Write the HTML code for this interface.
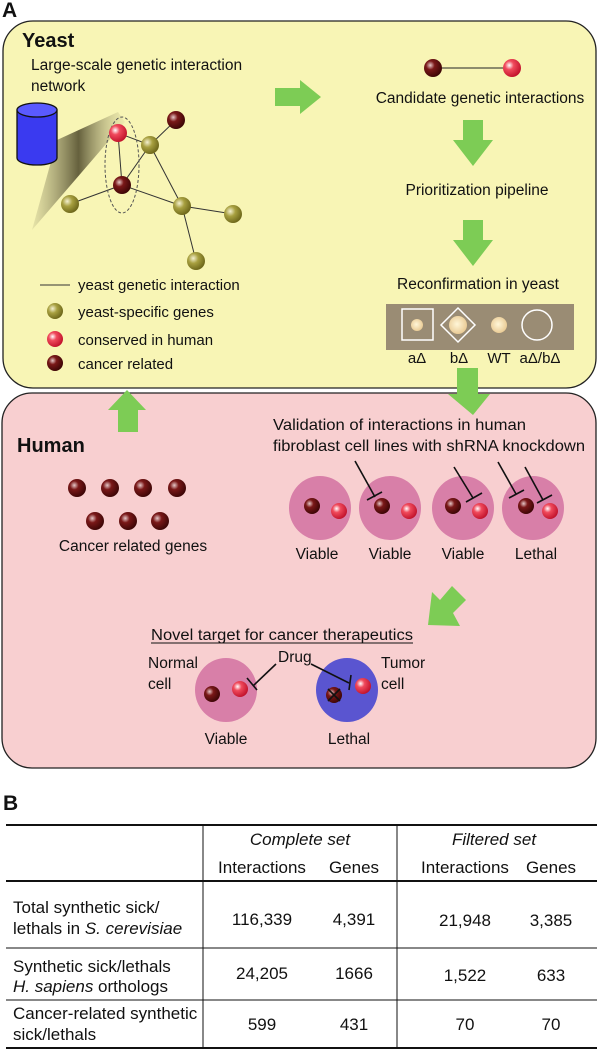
<!DOCTYPE html>
<html><head><meta charset="utf-8"><style>
html,body{margin:0;padding:0;background:#fff}
svg{display:block}
text{font-family:"Liberation Sans",Arial,sans-serif;fill:#111}
</style></head><body>
<svg width="601" height="1050" viewBox="0 0 601 1050" xmlns="http://www.w3.org/2000/svg">
<defs>
<radialGradient id="gr" cx="0.35" cy="0.35" r="0.7"><stop offset="0" stop-color="#fff"/><stop offset="0.35" stop-color="#f04a5c"/><stop offset="1" stop-color="#c0102a"/></radialGradient>
<radialGradient id="gd" cx="0.35" cy="0.35" r="0.7"><stop offset="0" stop-color="#e6c8c8"/><stop offset="0.35" stop-color="#7a1818"/><stop offset="1" stop-color="#3a0505"/></radialGradient>
<radialGradient id="go" cx="0.35" cy="0.35" r="0.7"><stop offset="0" stop-color="#f4f0d0"/><stop offset="0.4" stop-color="#a8a040"/><stop offset="1" stop-color="#6a6418"/></radialGradient>
<radialGradient id="gs" cx="0.45" cy="0.45" r="0.6"><stop offset="0" stop-color="#fff6d8"/><stop offset="1" stop-color="#e8c890"/></radialGradient>
<linearGradient id="wedge" x1="0" y1="0" x2="1" y2="0"><stop offset="0" stop-color="#8a8660" stop-opacity="0.15"/><stop offset="0.5" stop-color="#555030" stop-opacity="0.9"/><stop offset="1" stop-color="#c8c490" stop-opacity="0.2"/></linearGradient>
</defs>

<text x="2" y="17" font-size="21" font-weight="bold">A</text>
<rect x="3" y="21" width="593" height="367" rx="30" fill="#f8f5b5" stroke="#222" stroke-width="1.3"/>
<rect x="2" y="393" width="594" height="375" rx="30" fill="#f8cfd0" stroke="#222" stroke-width="1.3"/>

<text x="22" y="47" font-size="20" font-weight="bold">Yeast</text>
<text x="31" y="70" font-size="15.5">Large-scale genetic interaction</text>
<text x="31" y="91" font-size="15.5">network</text>

<polygon points="57,140 118,112 125,122 32,230" fill="url(#wedge)"/>
<path d="M17,110 L17,158 A20,7 0 0 0 57,158 L57,110 Z" fill="#3a3af0" stroke="#111" stroke-width="1.3"/>
<ellipse cx="37" cy="110" rx="20" ry="7" fill="#5a5aff" stroke="#111" stroke-width="1.3"/>

<g stroke="#333" stroke-width="1">
<line x1="118" y1="133" x2="150" y2="145"/>
<line x1="118" y1="133" x2="122" y2="185"/>
<line x1="122" y1="185" x2="150" y2="145"/>
<line x1="150" y1="145" x2="176" y2="120"/>
<line x1="122" y1="185" x2="70" y2="204"/>
<line x1="122" y1="185" x2="182" y2="206"/>
<line x1="150" y1="145" x2="182" y2="206"/>
<line x1="182" y1="206" x2="233" y2="214"/>
<line x1="182" y1="206" x2="196" y2="261"/>
</g>
<ellipse cx="122" cy="165" rx="17" ry="48" fill="none" stroke="#555" stroke-dasharray="3,2"/>
<circle cx="118" cy="133" r="9" fill="url(#gr)"/>
<circle cx="176" cy="120" r="9" fill="url(#gd)"/>
<circle cx="150" cy="145" r="9" fill="url(#go)"/>
<circle cx="122" cy="185" r="9" fill="url(#gd)"/>
<circle cx="70" cy="204" r="9" fill="url(#go)"/>
<circle cx="182" cy="206" r="9" fill="url(#go)"/>
<circle cx="233" cy="214" r="9" fill="url(#go)"/>
<circle cx="196" cy="261" r="9" fill="url(#go)"/>

<line x1="40" y1="285" x2="70" y2="285" stroke="#333"/>
<text x="78" y="290" font-size="15">yeast genetic interaction</text>
<circle cx="55" cy="311" r="8" fill="url(#go)"/>
<text x="78" y="317" font-size="15">yeast-specific genes</text>
<circle cx="55" cy="339" r="8" fill="url(#gr)"/>
<text x="78" y="345" font-size="15">conserved in human</text>
<circle cx="55" cy="363" r="8" fill="url(#gd)"/>
<text x="78" y="369" font-size="15">cancer related</text>

<g fill="#7dcc55">
<polygon points="275,88 300,88 300,80 321,97 300,114 300,106 275,106"/>
<polygon points="463,120 483,120 483,140 493,140 473,166 453,140 463,140"/>
<polygon points="463,220 483,220 483,240 493,240 473,266 453,240 463,240"/>
<polygon points="457,368 478,368 478,394 490,394 473,415 448,394 457,394"/>
<polygon points="118,432 138,432 138,410 146,410 127,390 108,410 118,410"/>
<polygon points="466,600 452,586 440,600 432,592 428,625 460,626 453,613"/>
</g>

<line x1="433" y1="68" x2="512" y2="68" stroke="#222"/>
<circle cx="433" cy="68" r="9" fill="url(#gd)"/>
<circle cx="512" cy="68" r="9" fill="url(#gr)"/>
<text x="480" y="103" font-size="15.5" text-anchor="middle">Candidate genetic interactions</text>
<text x="477" y="195" font-size="15.5" text-anchor="middle">Prioritization pipeline</text>
<text x="478" y="289" font-size="15.5" text-anchor="middle">Reconfirmation in yeast</text>

<rect x="386" y="304" width="188" height="46" fill="#9a8c74"/>
<rect x="402" y="309" width="31" height="31" fill="none" stroke="#fff" stroke-width="1.5"/>
<polygon points="458,308 475,325 458,342 441,325" fill="none" stroke="#fff" stroke-width="1.5"/>
<circle cx="417" cy="325" r="6" fill="url(#gs)"/>
<circle cx="458" cy="325" r="9" fill="url(#gs)"/>
<circle cx="499" cy="325" r="8" fill="url(#gs)"/>
<circle cx="537" cy="325" r="15" fill="none" stroke="#fff" stroke-width="1.5"/>
<g font-size="15" text-anchor="middle">
<text x="417" y="363">aΔ</text><text x="459" y="363">bΔ</text><text x="499" y="363">WT</text><text x="540" y="363">aΔ/bΔ</text>
</g>

<text x="17" y="452" font-size="20" font-weight="bold">Human</text>
<circle cx="77" cy="488" r="9" fill="url(#gd)"/>
<circle cx="110" cy="488" r="9" fill="url(#gd)"/>
<circle cx="143" cy="488" r="9" fill="url(#gd)"/>
<circle cx="177" cy="488" r="9" fill="url(#gd)"/>
<circle cx="95" cy="521" r="9" fill="url(#gd)"/>
<circle cx="128" cy="521" r="9" fill="url(#gd)"/>
<circle cx="160" cy="521" r="9" fill="url(#gd)"/>
<text x="133" y="551" font-size="15.5" text-anchor="middle">Cancer related genes</text>

<text x="273" y="430" font-size="16" textLength="253" lengthAdjust="spacingAndGlyphs">Validation of interactions in human</text>
<text x="273" y="451" font-size="16" textLength="312" lengthAdjust="spacingAndGlyphs">fibroblast cell lines with shRNA knockdown</text>

<g fill="#d87fa8">
<ellipse cx="320" cy="508" rx="31" ry="32"/>
<ellipse cx="390" cy="508" rx="31" ry="32"/>
<ellipse cx="463" cy="508" rx="31" ry="32"/>
<ellipse cx="533" cy="508" rx="31" ry="32"/>
</g>
<circle cx="312" cy="506" r="8" fill="url(#gd)"/><circle cx="339" cy="511" r="8" fill="url(#gr)"/>
<circle cx="382" cy="506" r="8" fill="url(#gd)"/><circle cx="409" cy="511" r="8" fill="url(#gr)"/>
<circle cx="453" cy="506" r="8" fill="url(#gd)"/><circle cx="480" cy="511" r="8" fill="url(#gr)"/>
<circle cx="526" cy="506" r="8" fill="url(#gd)"/><circle cx="550" cy="511" r="8" fill="url(#gr)"/>
<g stroke="#111" stroke-width="1.6">
<line x1="355" y1="461" x2="375" y2="497"/><line x1="367" y1="500" x2="382" y2="492"/>
<line x1="454" y1="467" x2="473" y2="498"/><line x1="466" y1="502" x2="482" y2="493"/>
<line x1="498" y1="462" x2="516" y2="494"/><line x1="509" y1="498" x2="524" y2="490"/>
<line x1="525" y1="467" x2="543" y2="500"/><line x1="537" y1="503" x2="552" y2="495"/>
</g>
<g font-size="15.5" text-anchor="middle">
<text x="317" y="559">Viable</text><text x="390" y="559">Viable</text><text x="463" y="559">Viable</text><text x="536" y="559">Lethal</text>
</g>

<text x="151" y="640" font-size="15.5" textLength="262" lengthAdjust="spacingAndGlyphs">Novel target for cancer therapeutics</text>
<line x1="151" y1="643" x2="413" y2="643" stroke="#111" stroke-width="1"/>
<ellipse cx="226" cy="690" rx="31" ry="32" fill="#d87fa8"/>
<ellipse cx="347" cy="690" rx="31" ry="32" fill="#5a55d0"/>
<circle cx="212" cy="694" r="8" fill="url(#gd)"/><circle cx="240" cy="689" r="8" fill="url(#gr)"/>
<circle cx="334" cy="695" r="8" fill="url(#gd)"/><circle cx="363" cy="686" r="8" fill="url(#gr)"/>
<g stroke="#111" stroke-width="1.6">
<line x1="328" y1="689" x2="340" y2="701"/><line x1="340" y1="689" x2="328" y2="701"/>
<line x1="276" y1="664" x2="253" y2="686"/><line x1="247" y1="678" x2="257" y2="690"/>
<line x1="311" y1="664" x2="349" y2="683"/><line x1="351" y1="675" x2="349" y2="690"/>
</g>
<g font-size="15.5">
<text x="278" y="662">Drug</text>
<text x="148" y="668">Normal</text><text x="148" y="689">cell</text>
<text x="381" y="668">Tumor</text><text x="381" y="689">cell</text>
<text x="226" y="744" text-anchor="middle">Viable</text>
<text x="349" y="744" text-anchor="middle">Lethal</text>
</g>

<text x="3" y="810" font-size="21" font-weight="bold">B</text>
<g stroke="#111">
<line x1="6" y1="825" x2="597" y2="825" stroke-width="2"/>
<line x1="6" y1="881" x2="597" y2="881" stroke-width="2"/>
<line x1="6" y1="948" x2="597" y2="948" stroke-width="1"/>
<line x1="6" y1="1000" x2="597" y2="1000" stroke-width="1"/>
<line x1="6" y1="1048" x2="597" y2="1048" stroke-width="2"/>
<line x1="203" y1="825" x2="203" y2="1048" stroke-width="1"/>
<line x1="397" y1="825" x2="397" y2="1048" stroke-width="1"/>
</g>
<g font-size="17">
<text x="300" y="845" text-anchor="middle" font-style="italic">Complete set</text>
<text x="494" y="845" text-anchor="middle" font-style="italic">Filtered set</text>
<text x="262" y="873" text-anchor="middle">Interactions</text>
<text x="354" y="873" text-anchor="middle">Genes</text>
<text x="465" y="873" text-anchor="middle">Interactions</text>
<text x="551" y="873" text-anchor="middle">Genes</text>
<text x="13" y="913">Total synthetic sick/</text>
<text x="13" y="934">lethals in <tspan font-style="italic">S. cerevisiae</tspan></text>
<text x="13" y="972">Synthetic sick/lethals</text>
<text x="13" y="992"><tspan font-style="italic">H. sapiens</tspan> orthologs</text>
<text x="13" y="1019">Cancer-related synthetic</text>
<text x="13" y="1040">sick/lethals</text>
<text x="262" y="925" text-anchor="middle">116,339</text><text x="354" y="925" text-anchor="middle">4,391</text>
<text x="465" y="926" text-anchor="middle">21,948</text><text x="551" y="926" text-anchor="middle">3,385</text>
<text x="262" y="979" text-anchor="middle">24,205</text><text x="354" y="979" text-anchor="middle">1666</text>
<text x="465" y="981" text-anchor="middle">1,522</text><text x="551" y="981" text-anchor="middle">633</text>
<text x="262" y="1030" text-anchor="middle">599</text><text x="354" y="1030" text-anchor="middle">431</text>
<text x="465" y="1030" text-anchor="middle">70</text><text x="551" y="1030" text-anchor="middle">70</text>
</g>
</svg>
</body></html>
